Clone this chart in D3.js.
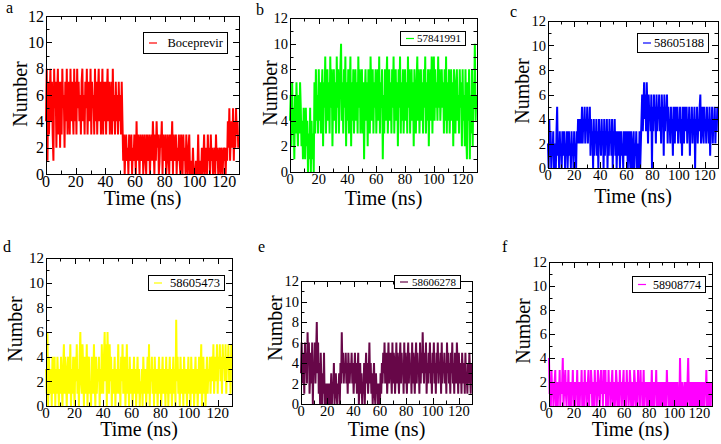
<!DOCTYPE html>
<html><head><meta charset="utf-8">
<script src="https://cdnjs.cloudflare.com/ajax/libs/d3/7.8.5/d3.min.js"></script>
<style>
html,body{margin:0;padding:0;background:#fff;}
svg{display:block;}
svg text{font-family:"Liberation Serif","Times New Roman","DejaVu Serif",serif;}
</style></head>
<body><svg id="chart" width="721" height="444"></svg>
<script>
// ---- data (values sampled every 0.5 ns) ----
const timeStep = 0.5;
const xTicksMajor = [0,20,40,60,80,100,120];
const yTicksMajor = [0,2,4,6,8,10,12];
const panelLetters = ["a","b","c","d","e","f"];
const seriesNames = ["Boceprevir","57841991","58605188","58605473","58606278","58908774"];

const hbondA = [
4,8,1,7,3,6,8,4,7,3,1,8,5,7,2,6,8,3,7,2,
7,3,8,5,6,2,7,4,8,3,6,7,3,8,4,7,5,3,8,4,
7,3,8,5,7,4,6,3,7,8,4,6,3,7,5,8,3,6,7,4,
8,3,7,5,6,3,8,4,7,3,6,8,4,7,3,5,8,3,7,4,
7,3,6,8,4,7,3,5,7,3,8,4,6,3,7,4,6,3,7,4,
6,3,7,4,1,3,0,2,3,1,2,0,3,1,2,3,0,2,1,3,
2,0,4,1,3,2,0,3,1,2,3,0,2,3,1,0,3,2,1,3,
0,2,3,1,4,2,0,3,1,4,2,3,0,1,3,2,4,0,3,1,
2,3,0,1,3,2,0,3,1,2,4,0,3,1,2,3,0,2,1,3,
1,0,3,2,0,3,1,2,0,3,1,0,2,3,0,1,0,0,2,0,
0,0,1,0,0,3,0,1,0,0,2,0,1,3,0,2,1,0,3,1,
2,0,3,1,2,0,1,2,0,3,1,2,0,1,2,0,2,1,0,2,
1,2,0,2,1,4,2,5,1,3,4,2,5,1,4,2,5,3,4,2];

const hbondB = [
4,6,2,7,3,5,1,6,3,7,4,2,6,3,7,5,2,4,1,5,
3,1,5,2,4,0,3,1,5,0,4,1,3,0,7,3,8,4,6,3,
8,4,7,3,6,8,2,7,5,9,3,6,8,4,7,3,9,5,8,2,
6,8,4,7,3,9,5,8,3,6,8,10,4,7,3,8,5,9,2,7,
4,8,3,6,9,2,7,4,8,3,6,8,4,7,3,9,5,8,3,6,
8,3,7,1,6,8,4,7,2,8,5,3,9,6,4,8,3,7,5,8,
3,6,8,4,9,3,7,5,8,1,6,3,8,4,7,9,3,6,8,4,
7,3,8,5,9,3,6,8,4,7,2,8,5,9,3,7,4,8,3,6,
8,4,7,3,9,5,8,3,6,8,4,7,2,8,5,3,7,9,4,8,
3,6,8,4,7,3,8,5,9,3,7,4,8,2,6,8,4,9,3,7,
9,4,8,5,7,4,9,5,8,4,6,8,5,7,3,8,4,9,3,7,
4,8,3,6,8,4,7,2,8,5,3,7,8,4,6,3,8,5,7,2,
8,4,6,2,8,3,1,7,4,8,1,6,3,8,2,7,5,10,4,6];

const hbondC = [
2,0,4,1,3,0,2,1,3,0,2,1,0,3,5,1,2,0,3,1,
2,0,3,1,2,3,0,2,1,3,0,2,3,1,2,0,3,1,2,0,
3,1,2,0,3,2,4,2,3,4,2,3,5,2,4,3,5,2,4,3,
5,2,4,3,5,1,4,2,3,0,4,1,3,2,4,1,3,0,4,2,
3,1,4,2,3,0,4,1,3,2,4,0,3,1,4,2,3,1,4,0,
3,2,4,1,3,0,2,3,1,3,0,2,3,1,2,0,3,1,2,3,
1,3,0,2,3,1,0,3,2,0,1,3,0,2,1,3,0,2,1,0,
3,0,2,4,6,3,5,7,4,6,3,7,5,2,6,4,5,3,6,0,
5,3,6,4,5,2,6,3,5,4,6,3,5,2,6,4,5,1,6,3,
5,4,6,2,5,3,4,2,5,3,4,1,5,3,2,5,4,3,5,2,
4,3,5,2,4,1,5,3,2,5,4,3,5,2,4,3,5,1,4,3,
5,2,4,3,5,0,4,3,5,2,4,3,5,6,2,4,5,3,2,5,
3,4,2,5,3,4,2,5,1,4,3,5,2,4,3,5,2,4,3,5];

const hbondD = [
3,1,6,0,4,2,1,3,0,4,1,2,4,0,3,1,4,2,0,3,
1,4,2,0,3,5,1,4,2,0,3,4,1,2,5,0,3,1,4,2,
0,4,2,5,1,3,0,4,6,2,1,5,3,0,4,1,2,5,0,3,
4,1,2,0,4,3,1,5,2,0,4,1,3,2,4,0,3,1,5,2,
1,4,6,2,5,0,6,3,1,5,2,4,0,3,1,2,4,0,3,1,
2,5,1,3,0,4,2,5,1,3,4,0,2,5,1,3,0,4,2,1,
3,0,2,4,1,3,0,2,4,1,3,0,2,1,3,0,4,2,1,3,
0,2,4,1,5,0,3,2,4,1,3,0,4,2,1,3,0,2,4,1,
3,0,2,4,1,3,2,0,4,1,3,0,2,4,1,3,0,2,4,1,
3,0,7,2,4,1,3,0,4,2,1,3,0,4,2,1,3,0,2,4,
1,3,0,4,2,1,3,0,2,4,1,3,0,2,4,1,3,5,0,2,
4,1,3,0,2,4,1,3,2,4,1,3,4,2,5,1,3,4,2,5,
1,4,3,5,2,4,1,5,3,4,2,5,1,4,3,5,2,4,1,5];

const hbondE = [
3,6,2,5,4,1,6,3,5,2,7,4,6,1,3,5,2,6,0,4,
3,6,2,5,8,3,6,1,4,0,5,2,0,3,1,5,0,2,1,0,
2,0,1,2,0,1,3,0,2,1,4,0,2,3,1,0,2,1,3,0,
4,2,7,3,5,2,4,3,5,2,4,1,5,3,2,4,3,5,2,4,
1,3,5,2,4,1,3,5,0,2,4,1,3,0,2,1,4,0,3,5,
2,4,1,3,6,2,4,1,3,0,2,4,1,0,3,1,2,0,1,2,
0,3,1,4,2,5,3,6,2,4,5,1,3,6,2,4,5,3,1,6,
2,5,4,1,3,6,2,5,3,1,4,6,2,5,3,4,1,6,2,5,
3,1,4,6,2,5,3,4,1,6,2,5,3,1,4,6,2,5,3,4,
1,6,2,5,3,7,4,2,5,3,6,1,4,2,5,3,6,2,4,1,
5,3,6,2,4,1,5,3,6,2,4,3,5,1,6,2,4,3,5,2,
4,1,6,3,5,2,4,1,5,3,6,2,4,1,5,3,2,6,4,1,
5,3,2,4,1,5,3,2,4,1,5,2,3,1,4,2,5,3,1,4];

const hbondF = [
4,1,2,0,3,1,2,0,1,2,3,0,2,1,0,2,1,3,0,2,
1,2,4,0,1,2,3,1,0,2,1,3,0,2,1,0,2,1,3,0,
2,1,0,2,1,3,0,1,2,0,2,1,3,0,2,1,0,3,1,2,
0,1,2,3,0,2,1,3,2,0,1,2,0,3,1,2,0,1,3,2,
1,0,2,3,1,2,0,3,1,2,3,0,1,2,0,3,1,2,0,1,
2,3,0,1,2,0,1,3,2,0,1,2,0,3,1,2,0,1,2,3,
0,1,2,0,3,1,2,0,1,3,2,0,1,2,0,1,3,2,0,1,
2,0,3,1,2,0,3,1,2,0,1,3,0,2,1,2,0,1,2,0,
1,2,0,1,3,0,2,1,0,2,1,3,0,1,2,0,1,2,0,1,
2,0,1,2,0,1,2,0,3,1,2,0,1,2,0,1,2,0,1,2,
0,1,2,0,1,2,0,1,0,4,1,0,2,1,0,1,2,0,1,2,
0,2,4,1,0,2,1,0,2,1,0,2,1,0,2,1,0,2,1,0,
2,1,0,2,1,0,2,1,0,2,1,3,0,2,1,0,2,1,0,2];

const allSeries = [hbondA, hbondB, hbondC, hbondD, hbondE, hbondF];
const seriesColors = ["#ff0000","#00ff00","#0000ff","#ffff00","#670748","#ff00ff"];

// ---- layout (pixels) ----
const FONT = "'Liberation Serif','Times New Roman','DejaVu Serif',serif";
const layout = [
 {l:46,r:239,t:16,b:174, tick:16, letter:[6,13], ylab:[27,94], xlabY:205, leg:{x:143,y:32,w:84,h:21,fs:12.5}},
 {l:290,r:477,t:18,b:172, tick:14.5, letter:[256,15], ylab:[277,93], xlabY:205, leg:{x:400,y:31,w:65,h:14,fs:11}},
 {l:548,r:718,t:21,b:168, tick:14.5, letter:[510,17], ylab:[529,91], xlabY:203, leg:{x:637,y:33,w:71,h:19,fs:12.5}},
 {l:46,r:232,t:258,b:406, tick:15, letter:[3,252], ylab:[22,329], xlabY:436, leg:{x:148,y:275,w:76,h:15,fs:12.5}},
 {l:301,r:472,t:281,b:404, tick:14.5, letter:[258,252], ylab:[282,328], xlabY:436, leg:{x:394,y:275,w:66,h:13,fs:11}},
 {l:549,r:712,t:262,b:406, tick:14.5, letter:[502,252], ylab:[530,331], xlabY:436, leg:{x:632,y:276,w:73,h:16,fs:12}}
];

const svg = d3.select("#chart").attr("font-family", FONT);

allSeries.forEach((vals, i) => {
  const L = layout[i];
  const x = d3.scaleLinear().domain([0,130]).range([L.l, L.r]);
  const y = d3.scaleLinear().domain([0,12]).range([L.b, L.t]);
  const g = svg.append("g");

  // data line
  const line = d3.line().x((d,k)=>x(k*timeStep)).y(d=>y(d));
  g.append("path").datum(vals).attr("d", line)
    .attr("fill","none").attr("stroke", seriesColors[i]).attr("stroke-width",2)
    .attr("stroke-linejoin","miter").attr("stroke-miterlimit",2);

  // ticks (inward, all sides)
  const xMinor = d3.range(10,131,20);
  const yMinor = d3.range(1,12,2);
  const tk = g.append("g").attr("stroke","#000").attr("stroke-width",1);
  xTicksMajor.concat(xMinor).forEach(v=>{
    const len = xTicksMajor.includes(v) ? 6 : 3.5;
    const px = Math.round(x(v))+0.5;
    tk.append("line").attr("x1",px).attr("x2",px).attr("y1",L.b).attr("y2",L.b-len);
    tk.append("line").attr("x1",px).attr("x2",px).attr("y1",L.t).attr("y2",L.t+len);
  });
  yTicksMajor.concat(yMinor).forEach(v=>{
    const len = yTicksMajor.includes(v) ? 6 : 3.5;
    const py = Math.round(y(v))+0.5;
    tk.append("line").attr("y1",py).attr("y2",py).attr("x1",L.l).attr("x2",L.l+len);
    tk.append("line").attr("y1",py).attr("y2",py).attr("x1",L.r).attr("x2",L.r-len);
  });

  // frame
  g.append("rect").attr("x",L.l+0.5).attr("y",L.t+0.5).attr("width",L.r-L.l).attr("height",L.b-L.t)
    .attr("fill","none").attr("stroke","#000").attr("stroke-width",1);

  // tick labels
  g.selectAll(".xl").data(xTicksMajor).enter().append("text")
    .attr("font-family",FONT)
    .attr("x",d=>x(d)).attr("y",L.b+L.tick*0.82).attr("text-anchor","middle")
    .attr("font-size",L.tick).text(d=>d);
  g.selectAll(".yl").data(yTicksMajor).enter().append("text")
    .attr("font-family",FONT)
    .attr("x",L.l-2).attr("y",d=>y(d)).attr("dy","0.35em").attr("text-anchor","end")
    .attr("font-size",L.tick).text(d=>d);

  // axis titles
  g.append("text").attr("font-family",FONT).attr("transform",`translate(${L.ylab[0]},${L.ylab[1]}) rotate(-90)`)
    .attr("text-anchor","middle").attr("font-size",20).text("Number");
  g.append("text").attr("font-family",FONT).attr("x",(L.l+L.r)/2).attr("y",L.xlabY).attr("text-anchor","middle")
    .attr("font-size",20).text("Time (ns)");

  // panel letter
  g.append("text").attr("font-family",FONT).attr("x",L.letter[0]).attr("y",L.letter[1]).attr("font-size",16).text(panelLetters[i]);

  // legend
  const lg = L.leg;
  g.append("rect").attr("x",lg.x+0.5).attr("y",lg.y+0.5).attr("width",lg.w).attr("height",lg.h)
    .attr("fill","#fff").attr("stroke","#000").attr("stroke-width",1);
  const cy = lg.y + lg.h/2 + 0.5;
  g.append("line").attr("x1",lg.x+6).attr("x2",lg.x+14).attr("y1",cy).attr("y2",cy)
    .attr("stroke",seriesColors[i]).attr("stroke-width",1.2);
  g.append("text").attr("font-family",FONT).attr("x",lg.x+lg.w-4).attr("y",cy).attr("dy","0.35em").attr("text-anchor","end")
    .attr("font-size",lg.fs).text(seriesNames[i]);
});
</script>
</body></html>
